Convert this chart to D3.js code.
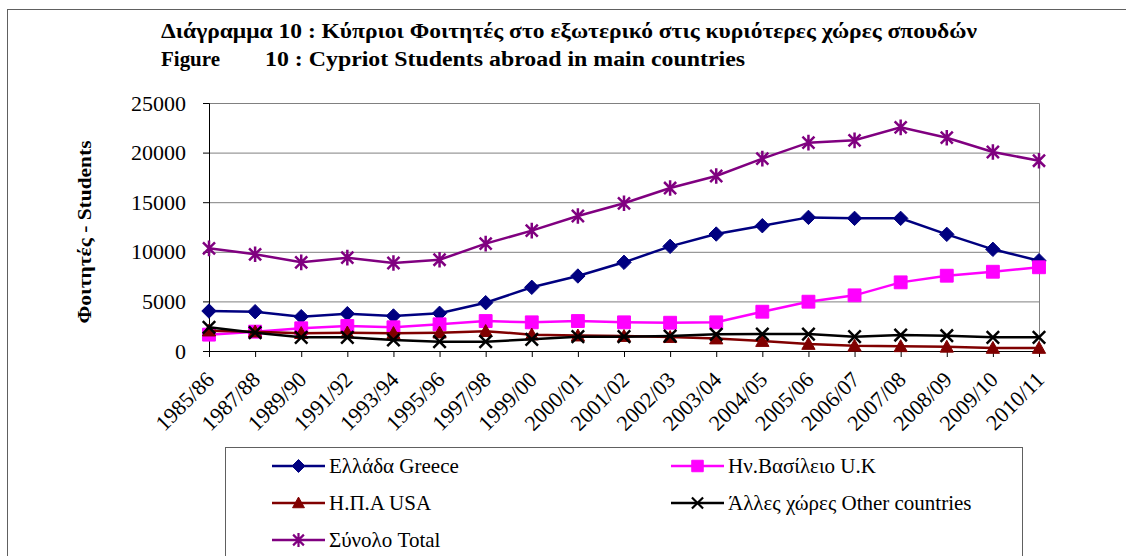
<!DOCTYPE html>
<html>
<head>
<meta charset="utf-8">
<script src="https://cdn.jsdelivr.net/npm/d3@7"></script>
<style>
  body { margin: 0; background: #fff; }
  text { font-family: "Liberation Serif", "Times New Roman", serif; }
</style>
</head>
<body>
<div id="chart"></div>
<script>
// categories and values
var years = ["1985/86", "1987/88", "1989/90", "1991/92", "1993/94", "1995/96", "1997/98",
             "1999/00", "2000/01", "2001/02", "2002/03", "2003/04", "2004/05", "2005/06",
             "2006/07", "2007/08", "2008/09", "2009/10", "2010/11"];
var greece = [4030, 3960, 3460, 3760, 3530, 3800, 4870, 6420, 7560, 8940, 10550, 11790,
              12630, 13470, 13370, 13370, 11760, 10250, 9100];
var uk     = [1650, 1950, 2290, 2520, 2390, 2690, 3020, 2890, 3020, 2890, 2850, 2890,
              3960, 4970, 5610, 6920, 7590, 7990, 8440];
var usa    = [2050, 1950, 1800, 1850, 1800, 1850, 2000, 1650, 1550, 1500, 1400, 1250,
              1000, 700, 520, 470, 420, 300, 300];
var other  = [2390, 1850, 1380, 1380, 1110, 940, 940, 1180, 1440, 1440, 1510, 1680,
              1710, 1710, 1440, 1610, 1540, 1380, 1380];
var total  = [10350, 9750, 8940, 9410, 8870, 9200, 10820, 12130, 13610, 14890, 16430, 17640,
              19390, 21000, 21240, 22550, 21500, 20060, 19180];
var yTicks = [0, 5000, 10000, 15000, 20000, 25000];

var width = 1126, height = 556;
var plot = {left: 209, right: 1039, top: 103, bottom: 351};

// marker shapes
var diamond = { draw: function(c, s) { var r = Math.sqrt(s) * 0.62;
  c.moveTo(0, -r); c.lineTo(r, 0); c.lineTo(0, r); c.lineTo(-r, 0); c.closePath(); } };
var square = { draw: function(c, s) { var r = Math.sqrt(s) / 2;
  c.rect(-r, -r, 2 * r, 2 * r); } };
var triangle = { draw: function(c, s) { var r = Math.sqrt(s) * 0.55;
  c.moveTo(0, -r); c.lineTo(r, r * 0.8); c.lineTo(-r, r * 0.8); c.closePath(); } };
var cross = { draw: function(c, s) { var r = Math.sqrt(s) / 2;
  c.moveTo(-r, -r); c.lineTo(r, r); c.moveTo(-r, r); c.lineTo(r, -r); } };
var star = { draw: function(c, s) { var r = Math.sqrt(s) / 2;
  c.moveTo(-r, -r); c.lineTo(r, r); c.moveTo(-r, r); c.lineTo(r, -r);
  c.moveTo(0, -r * 1.3); c.lineTo(0, r * 1.3); } };

var series = [
  {name: "Ελλάδα Greece", values: greece, color: "#000080", shape: diamond, size: 135, fill: true},
  {name: "Ην.Βασίλειο U.K", values: uk, color: "#ff00ff", shape: square, size: 165, fill: true},
  {name: "Η.Π.Α USA", values: usa, color: "#800000", shape: triangle, size: 145, fill: true},
  {name: "Άλλες χώρες Other countries", values: other, color: "#000000", shape: cross, size: 155, fill: false},
  {name: "Σύνολο Total", values: total, color: "#800080", shape: star, size: 145, fill: false}
];

var svg = d3.select("#chart").append("svg")
  .attr("width", width)
  .attr("height", height);

// outer frame
svg.append("rect")
  .attr("x", 7.5).attr("y", 9.5)
  .attr("width", width + 10).attr("height", height + 10)
  .attr("fill", "none").attr("stroke", "#606060").attr("stroke-width", 1);

// titles
svg.append("text")
  .attr("x", 161).attr("y", 38)
  .attr("font-size", 20).attr("font-weight", "bold")
  .attr("textLength", 816).attr("lengthAdjust", "spacingAndGlyphs")
  .text("Διάγραμμα 10 :  Κύπριοι Φοιτητές στο εξωτερικό στις κυριότερες χώρες σπουδών");
svg.append("text")
  .attr("x", 161).attr("y", 66)
  .attr("font-size", 20).attr("font-weight", "bold")
  .attr("textLength", 59).attr("lengthAdjust", "spacingAndGlyphs")
  .text("Figure");
svg.append("text")
  .attr("x", 265).attr("y", 66)
  .attr("font-size", 20).attr("font-weight", "bold")
  .attr("textLength", 480).attr("lengthAdjust", "spacingAndGlyphs")
  .text("10 :  Cypriot Students abroad in main countries");

// scales
var x = d3.scalePoint().domain(years).range([plot.left, plot.right]);
var y = d3.scaleLinear().domain([0, 25000]).range([plot.bottom, plot.top]);

// gridlines
svg.append("g")
  .attr("transform", "translate(" + plot.left + ",0)")
  .call(d3.axisLeft(y).tickValues(yTicks).tickSize(-(plot.right - plot.left)).tickFormat(""))
  .call(function(g) { g.select(".domain").remove(); })
  .selectAll("line").attr("stroke", "#808080");

// plot border (top and right)
svg.append("path")
  .attr("d", "M" + plot.left + "," + (plot.top + 0.5) + "H" + (plot.right + 0.5) + "V" + plot.bottom)
  .attr("fill", "none").attr("stroke", "#808080");

// y axis
var yAxis = svg.append("g")
  .attr("transform", "translate(" + plot.left + ",0)")
  .call(d3.axisLeft(y).tickValues(yTicks).tickSize(6).tickPadding(17).tickFormat(d3.format("d")));
yAxis.select(".domain").attr("stroke", "#000");
yAxis.selectAll("text")
  .attr("font-family", "Liberation Serif, serif")
  .attr("font-size", 22).attr("fill", "#000");

// x axis
var xAxis = svg.append("g")
  .attr("transform", "translate(0," + plot.bottom + ")")
  .call(d3.axisBottom(x).tickSize(6).tickSizeOuter(0));
xAxis.select(".domain").attr("stroke", "#000");
xAxis.selectAll("text")
  .attr("font-family", "Liberation Serif, serif")
  .attr("font-size", 22).attr("fill", "#000")
  .attr("text-anchor", "end")
  .attr("dy", null)
  .attr("y", 0)
  .attr("transform", "translate(6,30) rotate(-45)");

// y axis title
svg.append("text")
  .attr("transform", "translate(91,232) rotate(-90)")
  .attr("text-anchor", "middle")
  .attr("font-size", 19).attr("font-weight", "bold")
  .attr("textLength", 183).attr("lengthAdjust", "spacingAndGlyphs")
  .text("Φοιτητές - Students");

// lines and markers
var line = d3.line()
  .x(function(d, i) { return x(years[i]); })
  .y(function(d) { return y(d); });

series.forEach(function(s) {
  svg.append("path")
    .datum(s.values)
    .attr("fill", "none")
    .attr("stroke", s.color)
    .attr("stroke-width", 2.5)
    .attr("d", line);
  svg.append("g").selectAll("path")
    .data(s.values)
    .enter().append("path")
    .attr("transform", function(d, i) { return "translate(" + x(years[i]) + "," + y(d) + ")"; })
    .attr("d", d3.symbol().type(s.shape).size(s.size))
    .attr("fill", s.fill ? s.color : "none")
    .attr("stroke", s.color)
    .attr("stroke-width", s.fill ? 1 : 2.5);
});

// legend
svg.append("rect")
  .attr("x", 225.5).attr("y", 447.5)
  .attr("width", 797).attr("height", 120)
  .attr("fill", "#fff").attr("stroke", "#606060");

var legendPos = [[272, 466], [671, 466], [272, 503], [671, 503], [272, 540]];
series.forEach(function(s, i) {
  var lg = svg.append("g")
    .attr("transform", "translate(" + legendPos[i][0] + "," + legendPos[i][1] + ")");
  lg.append("line")
    .attr("x1", 0).attr("x2", 53)
    .attr("stroke", s.color).attr("stroke-width", 2.5);
  lg.append("path")
    .attr("transform", "translate(26.5,0)")
    .attr("d", d3.symbol().type(s.shape).size(s.size * 0.8))
    .attr("fill", s.fill ? s.color : "none")
    .attr("stroke", s.color)
    .attr("stroke-width", s.fill ? 1 : 2.2);
  lg.append("text")
    .attr("x", 57).attr("y", 7)
    .attr("font-size", 21)
    .text(s.name);
});
</script>
</body>
</html>
